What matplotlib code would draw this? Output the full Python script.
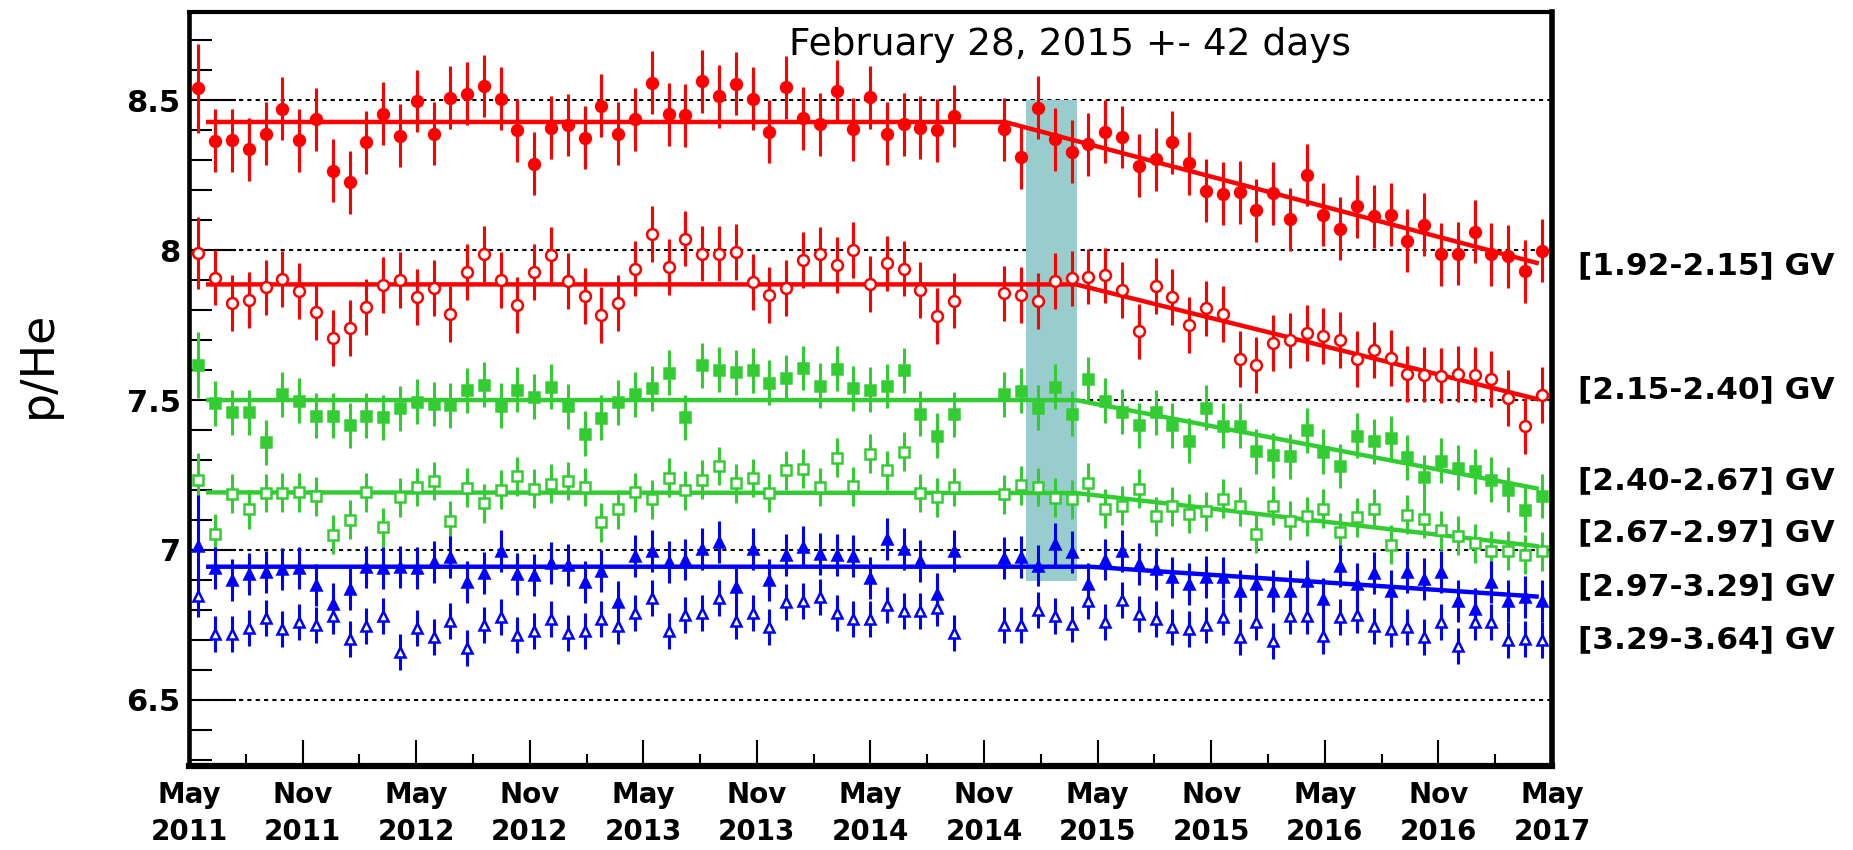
import matplotlib.pyplot as plt
import numpy as np
from matplotlib.ticker import MultipleLocator
from matplotlib.transforms import blended_transform_factory

# x axis: months counted from May 1, 2011; one point per Bartels rotation (27 days)
rotation = np.arange(81)
t = 0.5 + rotation * 27 / 30.44
nan = np.nan

red_full = [8.54, 8.365, 8.367, 8.337, 8.389, 8.472, 8.367, 8.437, 8.265, 8.227,
            8.36, 8.456, 8.382, 8.498, 8.389, 8.509, 8.522, 8.548, 8.506, 8.40,
            8.288, 8.409, 8.418, 8.376, 8.483, 8.389, 8.437, 8.559, 8.454, 8.45,
            8.564, 8.514, 8.556, 8.506, 8.395, 8.544, 8.44, 8.42, 8.531, 8.403,
            8.51, 8.389, 8.42, 8.409, 8.40, 8.448, nan, nan, 8.404, 8.31,
            8.476, 8.371, 8.329, 8.354, 8.395, 8.378, 8.282, 8.304, 8.36, 8.29,
            8.199, 8.188, 8.194, 8.133, 8.19, 8.103, 8.251, 8.118, 8.072, 8.147,
            8.113, 8.118, 8.031, 8.085, 7.986, 7.989, 8.061, 7.987, 7.98, 7.93,
            7.998]
red_open = [7.992, 7.909, 7.823, 7.834, 7.876, 7.904, 7.864, 7.795, 7.707, 7.74,
            7.81, 7.884, 7.90, 7.843, 7.873, 7.788, 7.928, 7.987, 7.90, 7.817,
            7.928, 7.983, 7.897, 7.848, 7.784, 7.825, 7.939, 8.055, 7.945, 8.039,
            7.989, 7.989, 7.994, 7.895, 7.851, 7.873, 7.967, 7.986, 7.95, 8.0,
            7.887, 7.956, 7.939, 7.867, 7.781, 7.832, nan, nan, 7.856, 7.85,
            7.831, 7.898, 7.906, 7.912, 7.916, 7.867, 7.729, 7.881, 7.845, 7.751,
            7.806, 7.788, 7.638, 7.616, 7.69, 7.699, 7.723, 7.715, 7.701, 7.638,
            7.668, 7.64, 7.588, 7.585, 7.582, 7.587, 7.585, 7.571, 7.506, 7.414,
            7.517]
green_full = [7.616, 7.49, 7.459, 7.459, 7.36, 7.52, 7.498, 7.448, 7.448, 7.416,
              7.448, 7.442, 7.472, 7.495, 7.487, 7.483, 7.532, 7.552, 7.481, 7.535,
              7.511, 7.545, 7.48, 7.388, 7.441, 7.492, 7.52, 7.539, 7.591, 7.442,
              7.616, 7.602, 7.593, 7.60, 7.558, 7.574, 7.607, 7.548, 7.604, 7.539,
              7.535, 7.547, 7.60, 7.455, 7.381, 7.453, nan, nan, 7.52, 7.531,
              7.475, 7.545, 7.455, 7.569, 7.498, 7.461, 7.416, 7.459, 7.416, 7.364,
              7.475, 7.414, 7.414, 7.33, 7.316, 7.313, 7.40, 7.327, 7.28, 7.381,
              7.363, 7.372, 7.31, 7.243, 7.297, 7.275, 7.263, 7.234, 7.201, 7.134,
              7.18]
green_open = [7.234, 7.054, 7.188, 7.135, 7.19, 7.191, 7.193, 7.179, 7.051, 7.10,
              7.193, 7.076, 7.176, 7.21, 7.23, 7.098, 7.208, 7.156, 7.201, 7.246,
              7.204, 7.221, 7.23, 7.21, 7.093, 7.135, 7.193, 7.169, 7.241, 7.199,
              7.234, 7.28, 7.223, 7.24, 7.19, 7.266, 7.271, 7.21, 7.308, 7.212,
              7.321, 7.266, 7.327, 7.19, 7.176, 7.21, nan, nan, 7.185, 7.215,
              7.21, 7.174, 7.169, 7.224, 7.137, 7.148, 7.204, 7.113, 7.146, 7.121,
              7.129, 7.171, 7.145, 7.054, 7.148, 7.098, 7.112, 7.137, 7.059, 7.109,
              7.137, 7.017, 7.118, 7.104, 7.065, 7.048, 7.022, 6.998, 6.998, 6.984,
              6.996]
blue_full = [7.012, 6.94, 6.901, 6.92, 6.925, 6.936, 6.939, 6.884, 6.82, 6.869,
             6.942, 6.939, 6.942, 6.939, 6.961, 6.975, 6.892, 6.922, 6.998, 6.92,
             6.916, 6.955, 6.95, 6.892, 6.931, 6.825, 6.979, 6.996, 6.959, 6.968,
             7.003, 7.028, 6.875, 7.003, 6.901, 6.984, 7.009, 6.987, 6.984, 6.981,
             6.906, 7.035, 7.003, 6.964, 6.853, 6.998, nan, nan, 6.972, 6.975,
             6.948, 7.02, 6.994, 6.886, 6.968, 6.998, 6.953, 6.936, 6.908, 6.886,
             6.911, 6.908, 6.862, 6.886, 6.864, 6.864, 6.897, 6.836, 6.945, 6.886,
             6.923, 6.864, 6.925, 6.903, 6.925, 6.83, 6.802, 6.892, 6.83, 6.842,
             6.83]
blue_open = [6.847, 6.719, 6.719, 6.739, 6.772, 6.735, 6.76, 6.75, 6.778, 6.702,
             6.747, 6.78, 6.66, 6.741, 6.708, 6.763, 6.674, 6.75, 6.777, 6.717,
             6.73, 6.771, 6.724, 6.728, 6.771, 6.747, 6.788, 6.838, 6.728, 6.782,
             6.788, 6.839, 6.763, 6.789, 6.743, 6.825, 6.83, 6.842, 6.791, 6.771,
             6.769, 6.817, 6.795, 6.795, 6.806, 6.724, nan, nan, 6.75, 6.75,
             6.799, 6.78, 6.752, 6.83, 6.758, 6.834, 6.786, 6.769, 6.743, 6.735,
             6.749, 6.777, 6.71, 6.761, 6.697, 6.78, 6.78, 6.713, 6.777, 6.783,
             6.747, 6.735, 6.743, 6.708, 6.758, 6.68, 6.761, 6.761, 6.699, 6.702,
             6.699]

# error bar half lengths (first rotation has larger errors)
err_typ = [0.105, 0.093, 0.075, 0.065, 0.07, 0.06]
err_first = [0.148, 0.12, 0.11, 0.09, 0.17, 0.07]

# fitted curves: (month, p/He) break points
fit_red_full = ([0.9, 43.1, 71.3], [8.428, 8.428, 7.956])
fit_red_open = ([0.9, 46.85, 71.3], [7.886, 7.886, 7.502])
fit_green_full = ([0.9, 46.85, 71.3], [7.50, 7.50, 7.204])
fit_green_open = ([0.9, 46.85, 71.3], [7.192, 7.190, 7.012])
fit_blue_full = ([0.9, 47.6, 71.3], [6.944, 6.944, 6.844])

bins = ['[1.92-2.15] GV', '[2.15-2.40] GV', '[2.40-2.67] GV',
        '[2.67-2.97] GV', '[2.97-3.29] GV', '[3.29-3.64] GV']
bin_label_y = [7.949, 7.535, 7.232, 7.059, 6.878, 6.70]

tick_months = list(range(0, 73, 6))
tick_labels = ['May\n2011', 'Nov\n2011', 'May\n2012', 'Nov\n2012', 'May\n2013',
               'Nov\n2013', 'May\n2014', 'Nov\n2014', 'May\n2015', 'Nov\n2015',
               'May\n2016', 'Nov\n2016', 'May\n2017']

band = (44.2, 46.92, 6.897, 8.5)

red = '#ff0000'
green = '#33cc33'
blue = '#0000ff'

fig = plt.figure(figsize=(18.53, 8.5), dpi=100)
ax = fig.add_axes([189 / 1853, 1 - 766 / 850, (1552 - 189) / 1853, (766 - 12) / 850])

ax.fill_between([band[0], band[1]], band[2], band[3], color='#99cccc', lw=0, zorder=1)

for yv in [6.5, 7.0, 7.5, 8.0, 8.5]:
    ax.axhline(yv, color='k', lw=1.5, ls=(0, (2, 2)), zorder=0.5)

for fit, c in [(fit_red_full, red), (fit_red_open, red), (fit_green_full, green),
               (fit_green_open, green), (fit_blue_full, blue)]:
    ax.plot(fit[0], fit[1], color=c, lw=3.2, solid_capstyle='butt', zorder=3)

series = [(red_full, red, 'o', True, 7.8), (red_open, red, 'o', False, 7.8),
          (green_full, green, 's', True, 7.2), (green_open, green, 's', False, 7.2),
          (blue_full, blue, '^', True, 7.5), (blue_open, blue, '^', False, 7.5)]
for k, (vals, c, m, filled, ms) in enumerate(series):
    err = np.full(len(vals), err_typ[k])
    err[0] = err_first[k]
    ax.errorbar(t, vals, yerr=err, fmt=m, color=c, ms=ms, mec=c,
                mfc=c if filled else 'white', mew=1.8, elinewidth=2.2,
                capsize=0, zorder=4)

ax.set_xlim(0, 72)
ax.set_ylim(6.279, 8.795)

ax.set_xticks(tick_months)
ax.set_xticklabels(tick_labels, fontsize=20, fontweight='bold', linespacing=1.4)
ax.xaxis.set_minor_locator(MultipleLocator(3))
ax.tick_params(axis='x', which='major', direction='in', length=19, width=1.5, pad=11)
ax.tick_params(axis='x', which='minor', direction='in', length=8.5, width=1.5)

ax.set_yticks([6.5, 7.0, 7.5, 8.0, 8.5])
ax.set_yticklabels(['6.5', '7', '7.5', '8', '8.5'], fontsize=22, fontweight='bold')
ax.yaxis.set_minor_locator(MultipleLocator(0.1))
ax.tick_params(axis='y', which='major', direction='in', length=34, width=1.5, pad=6)
ax.tick_params(axis='y', which='minor', direction='in', length=16.5, width=1.5)

ax.spines['left'].set_linewidth(3.3)
ax.spines['top'].set_linewidth(3)
ax.spines['right'].set_linewidth(4)
ax.spines['bottom'].set_linewidth(4.5)

tr = blended_transform_factory(ax.transAxes, ax.transData)
for lab, yv in zip(bins, bin_label_y):
    ax.text(1.019, yv, lab, transform=tr, fontsize=22.5, fontweight='bold',
            ha='left', va='center')

fig.text(38 / 1853, 1 - 364 / 850, 'p/He', rotation=90, fontsize=33,
         ha='center', va='center')
fig.text(789 / 1853, 1 - 55 / 850, 'February 28, 2015 +- 42 days', fontsize=27,
         ha='left', va='baseline')

fig.savefig('out.png', dpi=100)
